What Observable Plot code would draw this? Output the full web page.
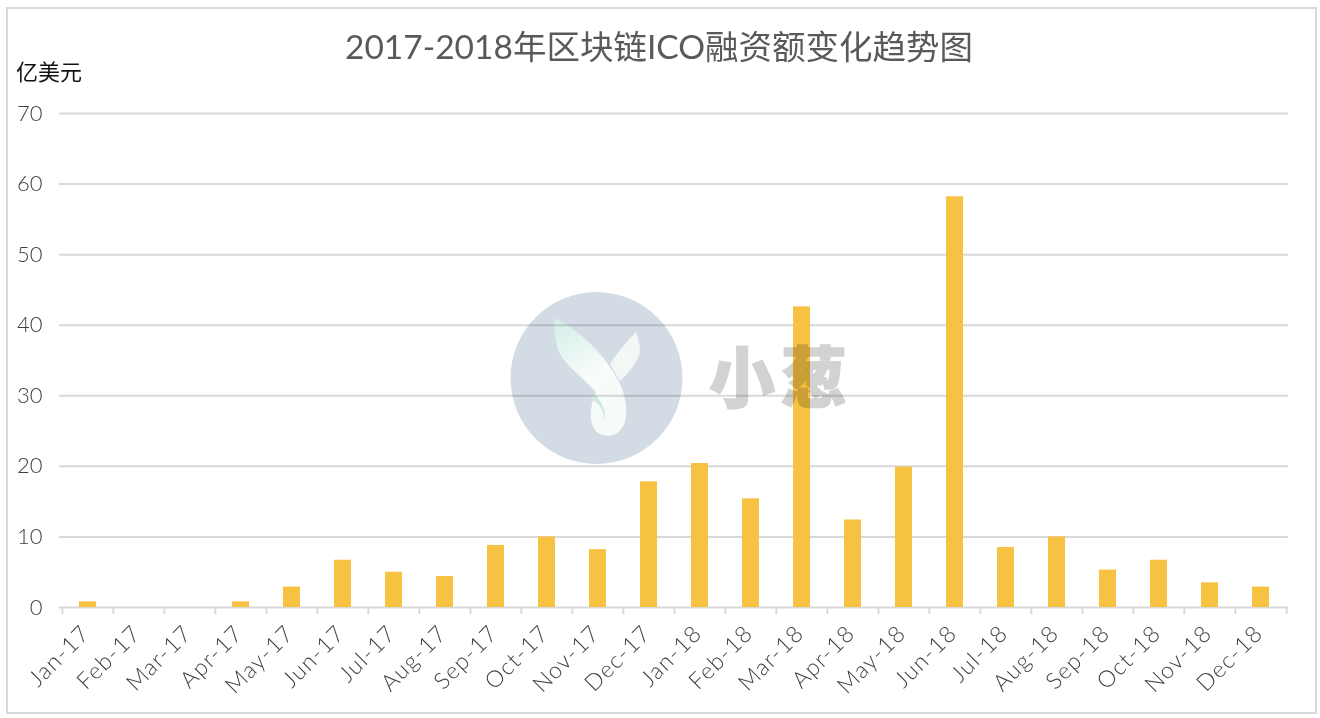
<!DOCTYPE html>
<html>
<head>
<meta charset="utf-8">
<script src="https://cdn.jsdelivr.net/npm/d3@7"></script>
<script src="https://cdn.jsdelivr.net/npm/@observablehq/plot@0.6"></script>
<style>
html,body{margin:0;padding:0;background:#fff;}
#page{position:relative;width:1320px;height:718px;overflow:hidden;}
#frame{position:absolute;left:6px;top:7px;width:1307px;height:703px;border:2px solid #d9d9d9;box-sizing:content-box;pointer-events:none;}
#title{position:absolute;left:0;top:23px;width:1318px;text-align:center;font:33.5px/46px Lato,"Noto Sans CJK SC",sans-serif;color:#595959;white-space:nowrap;}
#unit{position:absolute;left:16px;top:56px;font:22px/28px "Noto Sans CJK SC",sans-serif;color:#111;}
#chart{position:absolute;left:0;top:0;}
#mark{position:absolute;left:0;top:0;mix-blend-mode:multiply;pointer-events:none;}
#chart svg{display:block;}
#chart svg g[aria-label="x-axis tick label"]{letter-spacing:1.2px;font-weight:300;}
#chart svg g[aria-label="y-axis tick label"]{font-weight:300;}
</style>
</head>
<body>
<div id="page">
  <div id="chart"></div>
  <svg id="mark" width="1320" height="718" viewBox="0 0 1320 718">
    <defs>
      <linearGradient id="leaf" x1="0" y1="0" x2="0.35" y2="1">
        <stop offset="0" stop-color="#d2eee7"/>
        <stop offset="0.6" stop-color="#f8fcfb"/>
        <stop offset="1" stop-color="#f4fbf9"/>
      </linearGradient>
    </defs>
    <circle cx="596.5" cy="378" r="86" fill="#d3dce4"/>
    <path d="M636,332C640,342 641,352 638,358C634,366 628,374 620,381L610,364C618,352 628,340 636,332Z" fill="#f3f8f7"/>
    <path d="M554,318C580,330 608,358 620,384C628,402 628,420 622,428C616,437 604,438 597,432C589,425 589,408 596,392C585,380 562,362 558,350C555,340 554,330 554,318Z" fill="url(#leaf)"/>
    <path d="M593,393C602,400 606,412 605,421C603,408 598,402 591,400Z" fill="#cfe8e2"/>
    <text x="781" y="402" text-anchor="middle" font-family="Noto Sans CJK SC" font-weight="900" font-size="66" letter-spacing="6" fill="#d2d2d2" stroke="#d2d2d2" stroke-width="1.5">小葱</text>
  </svg>
  <div id="frame"></div>
  <div id="title">2017-2018年区块链ICO融资额变化趋势图</div>
  <div id="unit">亿美元</div>
</div>
<script>
const months = ["Jan-17","Feb-17","Mar-17","Apr-17","May-17","Jun-17","Jul-17","Aug-17","Sep-17","Oct-17","Nov-17","Dec-17","Jan-18","Feb-18","Mar-18","Apr-18","May-18","Jun-18","Jul-18","Aug-18","Sep-18","Oct-18","Nov-18","Dec-18"];
const funding = [0.8,0,0,0.8,2.9,6.7,5,4.4,8.8,10,8.2,17.8,20.4,15.4,42.6,12.4,19.9,58.2,8.5,10,5.3,6.7,3.5,2.9];
const yTicks = [0,10,20,30,40,50,60,70];
const rows = months.map((m,i)=>({month:m,value:funding[i]}));

const marginLeft = 59, marginRight = 32, width = 1320;
const halfBand = (width - marginLeft - marginRight) / months.length / 2;
const axisColor = "#d9d9d9", textColor = "#3f3f3f";
const font = "Lato, 'Noto Sans', sans-serif";

const chart = Plot.plot({
  width, height: 718,
  marginLeft, marginRight, marginTop: 113, marginBottom: 111,
  style: {background: "transparent", fontFamily: font},
  x: {domain: months, paddingInner: 0.67, paddingOuter: 0.335, align: 0.5},
  y: {domain: [0,70], range: [607,113]},
  marks: [
    Plot.ruleY(yTicks, {stroke: axisColor, strokeWidth: 2}),
    Plot.axisY({ticks: yTicks, tickSize: 0, tickPadding: 17, fontSize: 22, color: textColor, label: null, stroke: "none"}),
    Plot.axisX({tickSize: 7, dx: -halfBand, tickFormat: null, stroke: axisColor, strokeWidth: 2, label: null}),
    Plot.axisX({ticks: ["Dec-18"], tickSize: 7, dx: halfBand, tickFormat: null, stroke: axisColor, strokeWidth: 2, label: null}),
    Plot.axisX({tickSize: 0, tickPadding: 22, tickRotate: -45, dx: -2, fontSize: 23, color: textColor, label: null, stroke: "none"}),
    Plot.barY(rows, {x: "month", y: "value", fill: "#f7c142"})
  ]
});
document.getElementById("chart").append(chart);
</script>
</body>
</html>
